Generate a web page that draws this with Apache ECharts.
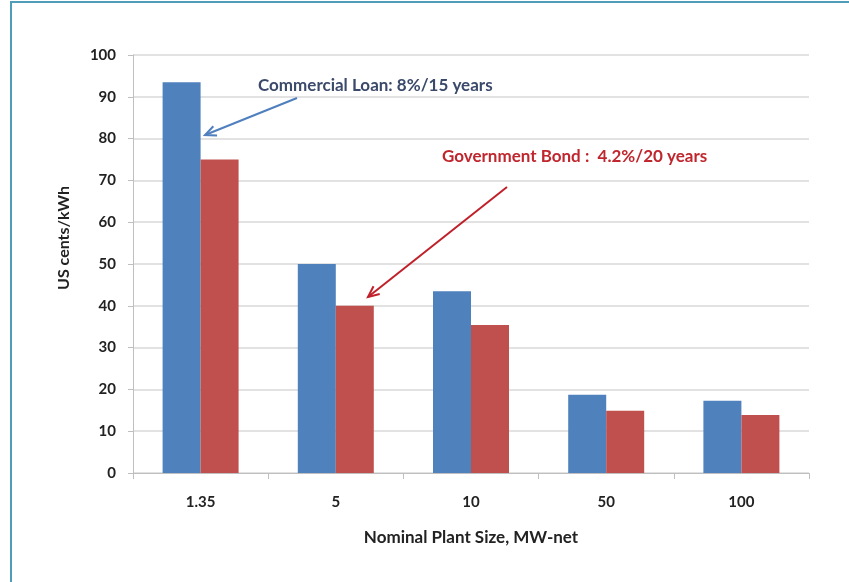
<!DOCTYPE html>
<html>
<head>
<meta charset="utf-8">
<script src="https://cdn.jsdelivr.net/npm/echarts@6/dist/echarts.min.js"></script>
<style>
  html, body { margin: 0; padding: 0; background: #fff; }
  #chart { width: 849px; height: 582px; }
</style>
</head>
<body>
<div id="chart"></div>
<script>
// Levelized cost of electricity by plant size, under two financing schemes
const plantSizes = ['1.35', '5', '10', '50', '100'];
const commercialLoan = [93.5, 50, 43.5, 18.7, 17.3];
const governmentBond = [75, 40, 35.4, 14.9, 13.9];
const yTicks = [0, 10, 20, 30, 40, 50, 60, 70, 80, 90, 100];

const FONT = 'Lato, "Liberation Sans", sans-serif';

const chart = echarts.init(document.getElementById('chart'), null, { renderer: 'canvas' });

const option = {
  animation: false,
  backgroundColor: '#ffffff',
  grid: { left: 133, right: 40, top: 55, bottom: 109, containLabel: false },
  xAxis: {
    type: 'category',
    data: plantSizes,
    name: 'Nominal Plant Size, MW-net',
    nameLocation: 'middle',
    nameGap: 56,
    nameTextStyle: { fontFamily: FONT, fontSize: 17, fontWeight: 'bold', color: '#222' },
    axisLine: { lineStyle: { color: '#bfbfbf', width: 1 } },
    axisTick: { show: true, alignWithLabel: false, length: 6, lineStyle: { color: '#bfbfbf' } },
    axisLabel: { fontFamily: FONT, fontSize: 15, fontWeight: 'bold', color: '#222', margin: 22 }
  },
  yAxis: {
    type: 'value',
    min: yTicks[0],
    max: yTicks[yTicks.length - 1],
    interval: 10,
    axisLine: { show: true, lineStyle: { color: '#bfbfbf', width: 1 } },
    axisTick: { show: true, length: 5, lineStyle: { color: '#bfbfbf' } },
    axisLabel: { fontFamily: FONT, fontSize: 15, fontWeight: 'bold', color: '#222', margin: 17 },
    splitLine: { show: true, lineStyle: { color: '#d9d9d9', width: 1.5 } }
  },
  series: [
    {
      name: 'Commercial Loan: 8%/15 years',
      type: 'bar',
      data: commercialLoan,
      barWidth: 38,
      barGap: '0%',
      itemStyle: { color: '#4f81bd' }
    },
    {
      name: 'Government Bond : 4.2%/20 years',
      type: 'bar',
      data: governmentBond,
      barWidth: 38,
      barGap: '0%',
      itemStyle: { color: '#c0504d' }
    }
  ]
};

chart.setOption(option);

// Callout arrows and their captions
function arrow(x1, y1, x2, y2, color) {
  const ang = Math.atan2(y2 - y1, x2 - x1);
  const L = 11, W = 5;
  const bx = x2 - L * Math.cos(ang), by = y2 - L * Math.sin(ang);
  const px = -Math.sin(ang) * W, py = Math.cos(ang) * W;
  return [
    { type: 'line', shape: { x1: x1, y1: y1, x2: x2, y2: y2 }, style: { stroke: color, lineWidth: 2 }, z: 100 },
    { type: 'polyline', shape: { points: [[bx + px, by + py], [x2, y2], [bx - px, by - py]] },
      style: { stroke: color, lineWidth: 2, fill: null }, z: 100 }
  ];
}

chart.setOption({
  graphic: [
    // outer frame (top and left edges)
    { type: 'line', shape: { x1: 10, y1: 2, x2: 849, y2: 2 }, style: { stroke: '#4f9db8', lineWidth: 2 } },
    { type: 'line', shape: { x1: 11, y1: 2, x2: 11, y2: 582 }, style: { stroke: '#4f9db8', lineWidth: 2 } },
    // y-axis title
    { type: 'text', x: 64, y: 238, rotation: Math.PI / 2,
      style: { text: 'US cents/kWh', fontFamily: FONT, fontSize: 16, fontWeight: 'bold', fill: '#222',
               align: 'center', verticalAlign: 'middle' } },
    { type: 'text', left: 258, top: 77,
      style: { text: 'Commercial Loan: 8%/15 years', fontFamily: FONT, fontSize: 17, fontWeight: 'bold', fill: '#3b4a6b' }, z: 100 },
    { type: 'text', left: 442, top: 148,
      style: { text: 'Government Bond :  4.2%/20 years', fontFamily: FONT, fontSize: 17, fontWeight: 'bold', fill: '#c0262e' }, z: 100 }
  ].concat(arrow(297, 98, 205, 135, '#4f7fbf'), arrow(507, 187, 368, 297, '#c0202a'))
});
</script>
</body>
</html>
